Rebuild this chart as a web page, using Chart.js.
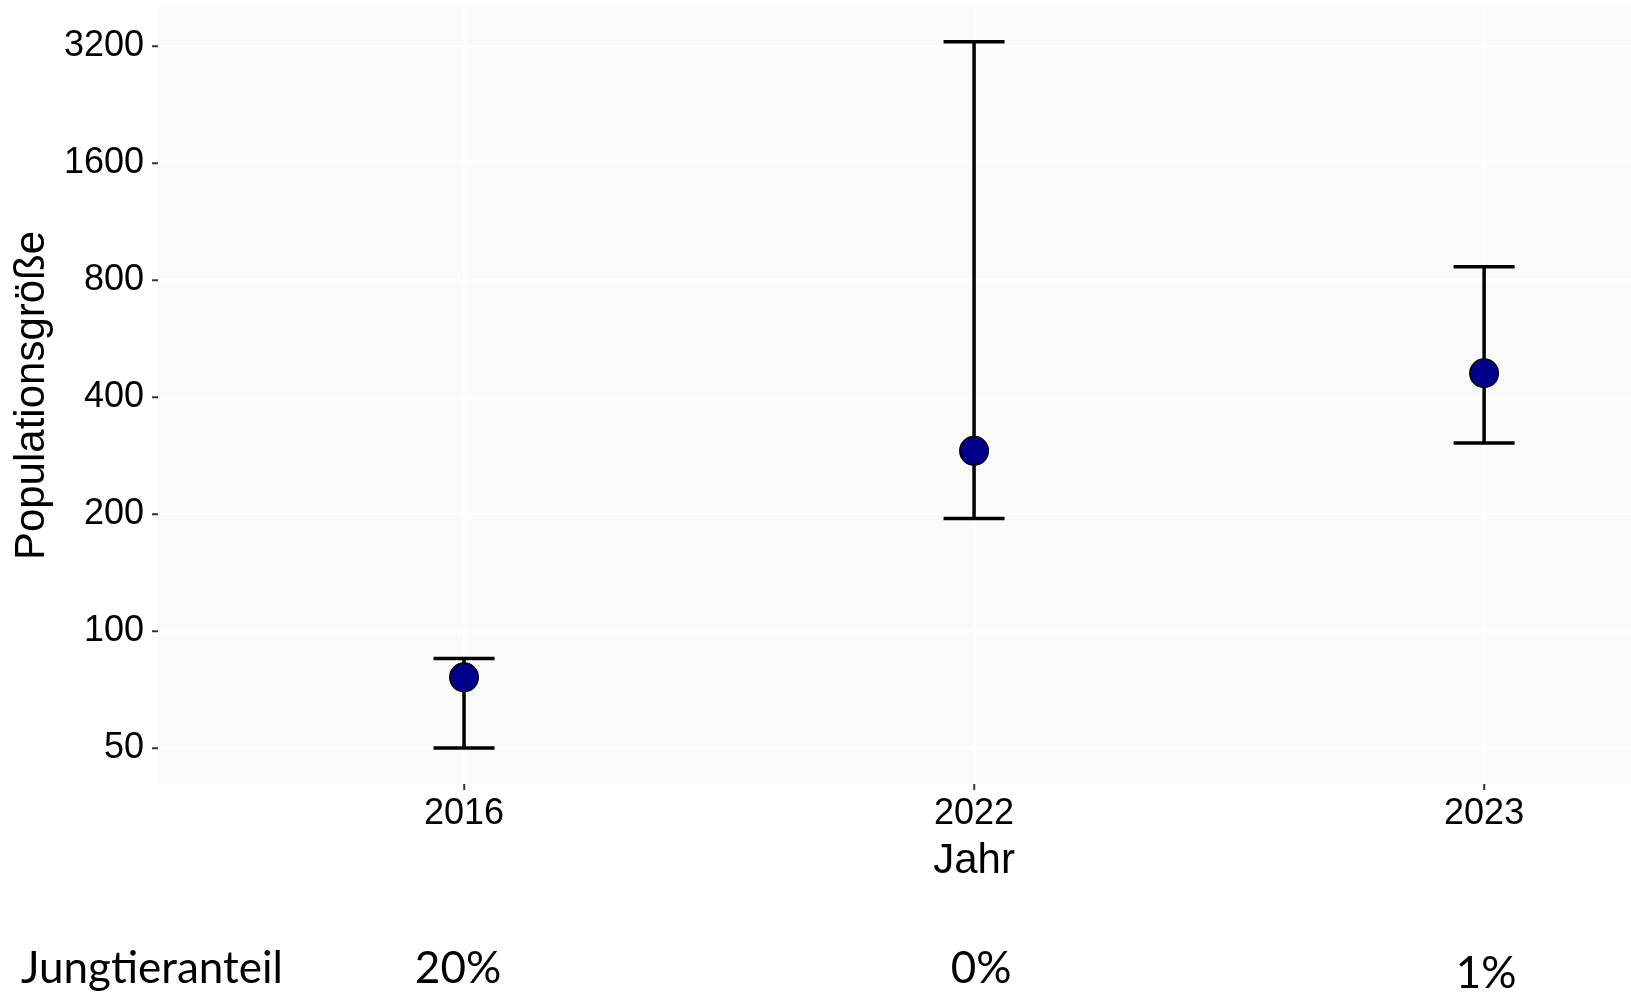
<!DOCTYPE html>
<html>
<head>
<meta charset="utf-8">
<script src="https://cdn.jsdelivr.net/npm/chart.js@4.4.1/dist/chart.umd.min.js"></script>
<style>
  html, body { margin: 0; padding: 0; background: #ffffff; overflow: hidden; }
  #wrap { position: relative; width: 1631px; height: 993px; }
  canvas { display: block; }
</style>
</head>
<body>
<div id="wrap"><canvas id="c" width="1631" height="993"></canvas></div>
<script>
// ---- data ----
const categories = ['2016', '2022', '2023'];
const estimates = [76, 291, 461];
const lowerCI = [50, 195, 305];
const upperCI = [85, 3290, 867];
const juvenileShare = ['20%', '0%', '1%'];
const yTickValues = [50, 100, 200, 400, 800, 1600, 3200];
const yTickLabels = ['50', '100', '200', '400', '800', '1600', '3200'];
const xTitle = 'Jahr';
const yTitle = 'Populationsgröße';
const rowTitle = 'Jungtieranteil';

// ---- derived datasets ----
const pointData = categories.map((c, i) => ({ x: i, y: estimates[i] }));
const whiskerData = [];
categories.forEach((c, i) => {
  whiskerData.push({ x: i, y: lowerCI[i] });
  whiskerData.push({ x: i, y: upperCI[i] });
  whiskerData.push({ x: i, y: null });
});
const capData = [];
categories.forEach((c, i) => {
  capData.push({ x: i, y: lowerCI[i] });
  capData.push({ x: i, y: upperCI[i] });
});

const AXIS_FONT = "'Liberation Sans', Arial, Helvetica, sans-serif";
const NOTE_FONT = "Lato, 'Open Sans', sans-serif";

const decor = {
  id: 'decor',
  beforeDraw(chart) {
    const { ctx, chartArea: a } = chart;
    ctx.save();
    ctx.fillStyle = '#FAFAFA';
    ctx.fillRect(a.left, a.top, a.right - a.left, a.bottom - a.top);
    ctx.restore();
  },
  afterDraw(chart) {
    const ctx = chart.ctx;
    const xs = chart.scales.x;
    ctx.save();
    ctx.fillStyle = '#000000';
    ctx.textBaseline = 'alphabetic';
    // x-axis title, centred on the (uncropped) panel middle
    ctx.font = '42px ' + AXIS_FONT;
    ctx.textAlign = 'center';
    ctx.fillText(xTitle, xs.getPixelForValue(1), 873);
    // bottom row
    ctx.font = '44px ' + NOTE_FONT;
    ctx.textAlign = 'left';
    ctx.fillText(rowTitle, 21, 983);
    ctx.textAlign = 'center';
    const shiftX = [-6, 7, 2];
    const shiftY = [0, 0, 5];
    juvenileShare.forEach((t, i) => {
      ctx.fillText(t, xs.getPixelForValue(i) + shiftX[i], 983 + shiftY[i]);
    });
    ctx.restore();
  }
};

function build() {
  new Chart(document.getElementById('c'), {
    type: 'scatter',
    data: {
      datasets: [
        {
          label: 'Schätzung',
          data: pointData,
          pointRadius: 14.25,
          pointHoverRadius: 14.25,
          pointBackgroundColor: '#00008B',
          pointBorderColor: '#000000',
          pointBorderWidth: 1.5,
          showLine: false,
          order: 0
        },
        {
          label: 'Kappen',
          data: capData,
          pointStyle: 'line',
          pointRadius: 30.5,
          pointHoverRadius: 30.5,
          pointBorderColor: '#000000',
          pointBorderWidth: 3.5,
          showLine: false,
          order: 1
        },
        {
          label: 'Konfidenzintervall',
          data: whiskerData,
          showLine: true,
          spanGaps: false,
          borderColor: '#000000',
          borderWidth: 3.5,
          pointRadius: 0,
          pointHoverRadius: 0,
          order: 2
        }
      ]
    },
    options: {
      responsive: false,
      devicePixelRatio: 1,
      animation: false,
      events: [],
      layout: { autoPadding: false, padding: { top: 7, left: 0, right: 0, bottom: 0 } },
      plugins: { legend: { display: false }, tooltip: { enabled: false } },
      scales: {
        x: {
          type: 'linear',
          bounds: 'data',
          min: -0.6,
          max: 2.288,
          afterBuildTicks: (s) => { s.ticks = categories.map((c, i) => ({ value: i })); },
          afterFit: (s) => {
            s.height = 209;
            s.paddingLeft = 0; s.paddingRight = 0; s.paddingTop = 0; s.paddingBottom = 0;
          },
          ticks: {
            callback: (v) => categories[v],
            autoSkip: false,
            maxRotation: 0,
            color: '#000000',
            padding: 2,
            font: { family: AXIS_FONT, size: 36 }
          },
          grid: { color: '#FFFFFF', lineWidth: 2.5, tickColor: '#333333', tickLength: 6, tickWidth: 2 },
          border: { display: false }
        },
        y: {
          type: 'logarithmic',
          bounds: 'data',
          min: 40.39,
          max: 4042,
          afterBuildTicks: (s) => { s.ticks = yTickValues.map((v) => ({ value: v })); },
          afterFit: (s) => {
            s.width = 158;
            s.paddingLeft = 0; s.paddingRight = 0; s.paddingTop = 0; s.paddingBottom = 0;
          },
          ticks: {
            callback: (v) => yTickLabels[yTickValues.indexOf(v)],
            autoSkip: false,
            color: '#000000',
            padding: 8,
            font: { family: AXIS_FONT, size: 36 }
          },
          grid: { color: '#FFFFFF', lineWidth: 2.5, tickColor: '#333333', tickLength: 6, tickWidth: 2 },
          border: { display: false },
          title: {
            display: true,
            text: yTitle,
            color: '#000000',
            font: { family: AXIS_FONT, size: 42 },
            padding: { top: 7, bottom: 0 }
          }
        }
      }
    },
    plugins: [decor]
  });
}

const fontLoads = [
  document.fonts.load("36px 'Liberation Sans'"),
  document.fonts.load('44px Lato')
];
Promise.all(fontLoads).then(build, build);
</script>
</body>
</html>
